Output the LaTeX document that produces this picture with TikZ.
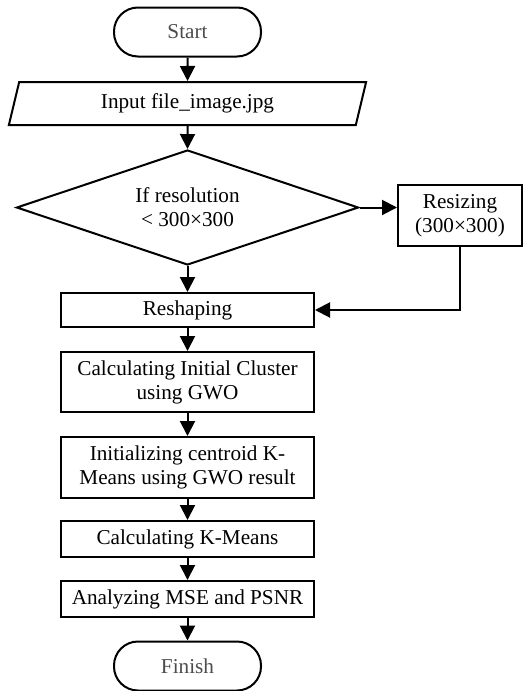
\documentclass[tikz,border=0pt]{standalone}
\usepackage{fontspec}
\setmainfont{Liberation Serif}
\usetikzlibrary{arrows.meta,shapes.geometric,positioning}
\tikzset{base/.style={draw,line width=1pt,align=center,inner sep=1pt,font=\fontsize{10.6}{12}\selectfont},
  term/.style={base,rectangle,rounded corners=12pt,minimum width=73.5pt,minimum height=24.5pt,text=black!70},
  io/.style={base,trapezium,trapezium left angle=77,trapezium right angle=103,trapezium stretches=true,minimum width=179.5pt,minimum height=21.5pt},
  decision/.style={base,diamond,aspect=2.97,inner sep=0pt,minimum width=171pt,minimum height=57.5pt},
  box/.style={base,rectangle,minimum width=126.5pt},
  arr/.style={-{Triangle[length=7.5pt,width=7.5pt]},line width=1pt}}

\begin{document}
\begin{tikzpicture}[x=0.5pt,y=-0.5pt]
\useasboundingbox (0,0) rectangle (523,691);
% flow, top to bottom (1 unit = 1 px of the 523x691 page)
\node[term] (start) at (187.5,32) {Start};
\node[io] (input) at (187.5,103.5) {Input file\_image.jpg};
\node[decision] (check) at (187.5,207.5) {If resolution\\< 300×300};
\node[box,minimum width=62pt,minimum height=30.5pt] (resize) at (460,215.5) {Resizing\\(300×300)};
\node[box,minimum height=17pt] (reshape) at (187.5,310) {Reshaping};
\node[box,minimum height=30pt] (gwo) at (187.5,382) {Calculating Initial Cluster\\using GWO};
\node[box,minimum height=30.5pt] (init) at (187.5,467.5) {Initializing centroid K-\\Means using GWO result};
\node[box,minimum height=18pt] (kmeans) at (187.5,539) {Calculating K-Means};
\node[box,minimum height=18pt] (analyze) at (187.5,599) {Analyzing MSE and PSNR};
\node[term] (finish) at (187.5,666) {Finish};
% connectors
\draw[arr] (start) -- (input);
\draw[arr] (input) -- (check);
\draw[arr] (check.east) -- (check.east -| resize.west);
\draw[arr] (check) -- (reshape);
\draw[arr] (resize.south) |- (reshape.east);
\draw[arr] (reshape) -- (gwo);
\draw[arr] (gwo) -- (init);
\draw[arr] (init) -- (kmeans);
\draw[arr] (kmeans) -- (analyze);
\draw[arr] (analyze) -- (finish);
\end{tikzpicture}
\end{document}
